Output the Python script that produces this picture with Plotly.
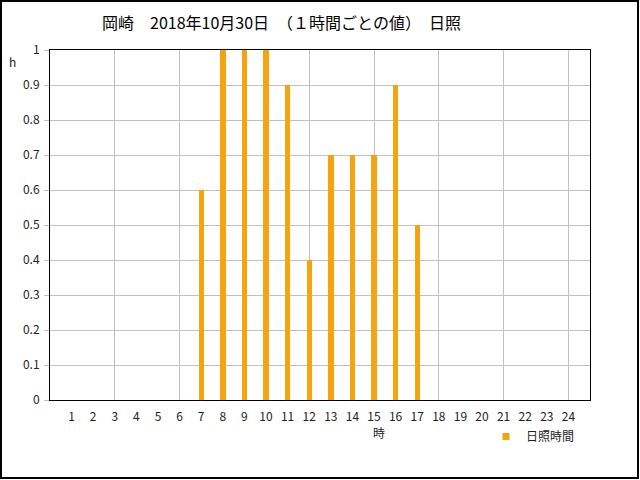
import plotly.graph_objects as go

hours = list(range(1, 25))
sunshine = [0, 0, 0, 0, 0, 0, 0.6, 1.0, 1.0, 1.0, 0.9, 0.4,
            0.7, 0.7, 0.7, 0.9, 0.5, 0, 0, 0, 0, 0, 0, 0]
tick_labels = [str(h) for h in hours]
y_ticks = [0, 0.1, 0.2, 0.3, 0.4, 0.5, 0.6, 0.7, 0.8, 0.9, 1]
y_tick_labels = ["0", "0.1", "0.2", "0.3", "0.4", "0.5", "0.6", "0.7", "0.8", "0.9", "1"]
grid_x = [3, 6, 9, 12, 15, 18, 21, 24]

FONT = "Noto Sans CJK JP"
ORANGE = "#F5A30F"

fig = go.Figure()
fig.add_trace(go.Bar(x=hours, y=sunshine, width=0.25, marker=dict(color=ORANGE, line=dict(width=0)),
                     name="日照時間", showlegend=False))
# legend entry: small square marker
fig.add_trace(go.Scatter(x=[None], y=[None], mode="markers", name="日照時間",
                         marker=dict(symbol="square", size=7, color=ORANGE), showlegend=True))
# invisible trace on overlaying axis for vertical gridlines
fig.add_trace(go.Scatter(x=[0], y=[0], xaxis="x2", mode="markers", marker=dict(opacity=0),
                         showlegend=False, hoverinfo="skip"))

L, R, T, B = 50, 50, 50, 80
W, H = 640, 480
pw, ph = W - L - R, H - T - B

def px(x):
    return (x - L) / pw

def py(y):
    return (T + ph - y) / ph

fig.update_layout(
    width=W, height=H,
    margin=dict(l=L, r=R, t=T, b=B),
    paper_bgcolor="white", plot_bgcolor="white",
    font=dict(family=FONT, size=12, color="#000000"),
    bargap=0,
    xaxis=dict(range=[0, 25], tickvals=hours, ticktext=tick_labels, showgrid=False,
               showline=True, linecolor="black", linewidth=1, mirror=True,
               ticks="", ticklabelstandoff=6, zeroline=False, fixedrange=True,
               tickfont=dict(size=12, color="#222")),
    xaxis2=dict(range=[0, 25], overlaying="x", tickvals=grid_x, showticklabels=False,
                showgrid=True, gridcolor="#C0C0C0", gridwidth=1, ticks="", zeroline=False,
                showline=False),
    yaxis=dict(range=[0, 1], tickvals=y_ticks, ticktext=y_tick_labels, showgrid=True,
               gridcolor="#C0C0C0", gridwidth=1, showline=True, linecolor="black",
               linewidth=1, mirror=True, ticks="outside", ticklen=5, tickcolor="#C0C0C0",
               zeroline=False, ticklabelstandoff=2, tickfont=dict(size=12, color="#222")),
    legend=dict(x=px(486), y=py(422), xanchor="left", yanchor="top",
                bgcolor="rgba(0,0,0,0)", font=dict(size=12, color="#222"),
                itemwidth=30, tracegroupgap=0),
    showlegend=True,
)

fig.add_annotation(text="岡崎　2018年10月30日　（１時間ごとの値）　日照", xref="paper", yref="paper",
                   x=px(100), y=py(22), xanchor="left", yanchor="middle", showarrow=False,
                   font=dict(size=16, color="#000"))
fig.add_annotation(text="h", xref="paper", yref="paper", x=px(12), y=py(61),
                   xanchor="center", yanchor="middle", showarrow=False,
                   font=dict(size=12, color="#222"))
fig.add_annotation(text="時", xref="paper", yref="paper", x=px(379), y=py(432),
                   xanchor="center", yanchor="middle", showarrow=False,
                   font=dict(size=12, color="#222"))
fig.add_shape(type="rect", xref="paper", yref="paper",
              x0=px(1), x1=px(638), y0=py(478), y1=py(1),
              line=dict(color="black", width=2), fillcolor="rgba(0,0,0,0)", layer="above")

fig.write_html("out.html", config={"displayModeBar": False},
               post_script="document.body.style.margin='0';document.body.style.padding='0';")
